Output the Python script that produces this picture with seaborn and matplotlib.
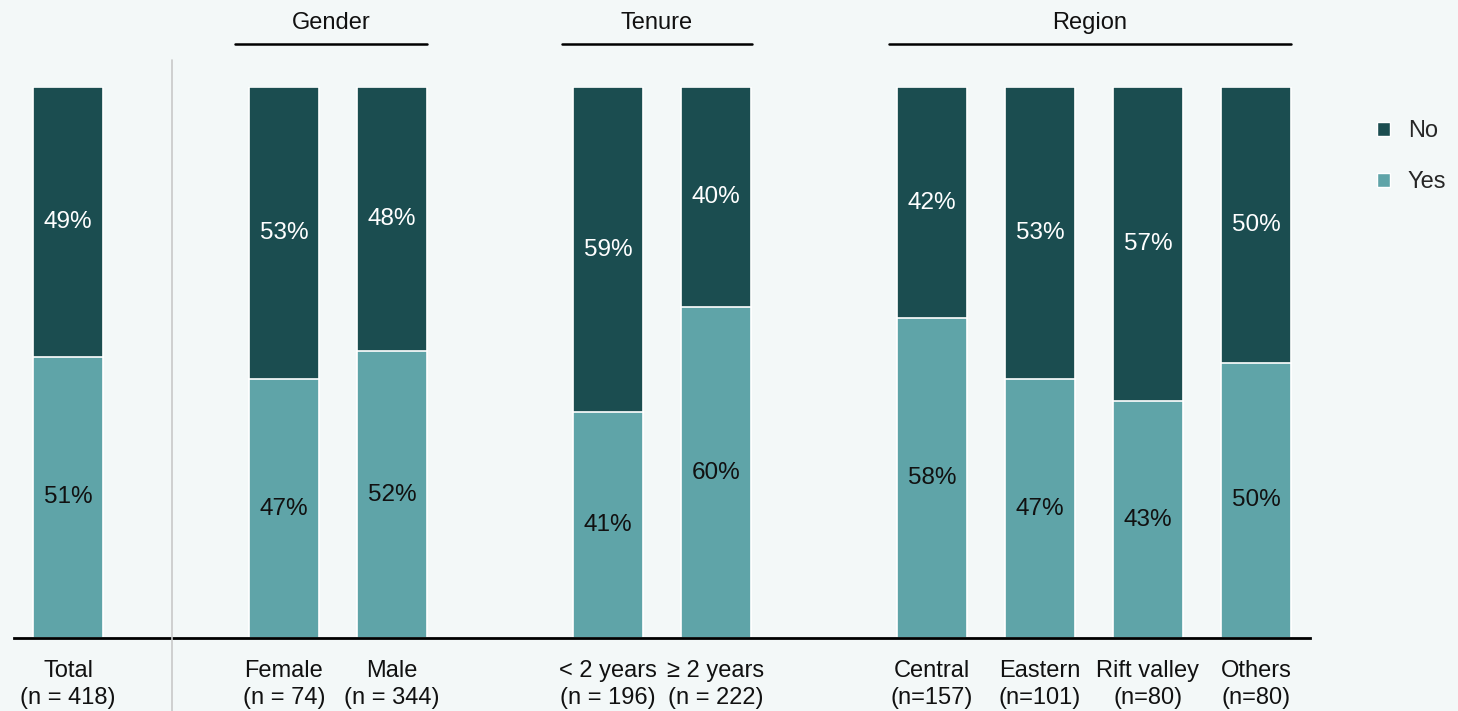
import pandas as pd
import matplotlib.pyplot as plt
from matplotlib.patches import Patch
import seaborn as sns

# slots along x, with empty slots used as gaps between the groups
positions = [0, 2, 3, 5, 6, 8, 9, 10, 11]
names = ["Total", "Female", "Male", "< 2 years", "\u2265 2 years",
         "Central", "Eastern", "Rift valley", "Others"]
counts = ["(n = 418)", "(n = 74)", "(n = 344)", "(n = 196)", "(n = 222)",
          "(n=157)", "(n=101)", "(n=80)", "(n=80)"]
yes = [51, 47, 52, 41, 60, 58, 47, 43, 50]
no = [49, 53, 48, 59, 40, 42, 53, 57, 50]

groups = ["Gender", "Tenure", "Region"]
group_spans = [(1.546, 3.324), (4.574, 6.333), (7.60, 11.32)]

dark = "#1b4d50"
light = "#5fa4a8"
bg = "#f3f8f8"

sns.set_theme(style="white")
plt.rcParams['font.family'] = ['Liberation Sans', 'DejaVu Sans']

df = pd.DataFrame({"pos": positions, "yes": yes, "no": no})
df["total"] = df["yes"] + df["no"]

fig = plt.figure(figsize=(14.58, 7.11), dpi=100, facecolor=bg)
ax = fig.add_axes([14 / 1458, 1 - 638 / 711, 1296 / 1458, 551 / 711])
ax.set_facecolor(bg)

sns.barplot(data=df, x="pos", y="total", native_scale=True, width=0.65,
            color=dark, saturation=1, edgecolor="white", linewidth=1.2,
            errorbar=None, ax=ax)
sns.barplot(data=df, x="pos", y="yes", native_scale=True, width=0.65,
            color=light, saturation=1, edgecolor="white", linewidth=1.2,
            errorbar=None, ax=ax)

for p, y, n in zip(positions, yes, no):
    ax.text(p, y / 2, f"{y}%", ha="center", va="center", fontsize=17.5, color="#111111")
    ax.text(p, y + n / 2, f"{n}%", ha="center", va="center", fontsize=17.5, color="white")

ax.set_xlim(-0.5, 11.5)
ax.set_ylim(0, 100)
ax.set_xticks(positions)
ax.set_xticklabels([f"{a}\n{b}" for a, b in zip(names, counts)], fontsize=17,
                   color="#111111", linespacing=1.3)
ax.tick_params(axis="x", length=0, pad=16)
ax.set_yticks([])
ax.set_xlabel("")
ax.set_ylabel("")
for s in ["top", "right", "left"]:
    ax.spines[s].set_visible(False)
ax.spines["bottom"].set_color("black")
ax.spines["bottom"].set_linewidth(2)

# separator between Total and the groups
ax.plot([0.963, 0.963], [104.9, -13.5], color="#c8c8c8", lw=1.2,
        clip_on=False, zorder=5)

for g, (a, b) in zip(groups, group_spans):
    ax.plot([a, b], [107.8, 107.8], color="black", lw=1.8, clip_on=False)
    ax.text((a + b) / 2, 111.7, g, ha="center", va="center", fontsize=17,
            color="#111111", clip_on=False)

handles = [Patch(facecolor=dark, edgecolor="white"), Patch(facecolor=light, edgecolor="white")]
fig.legend(handles, ["No", "Yes"], loc="upper left", bbox_to_anchor=(1356 / 1458, 1 - 99 / 711),
           frameon=False, fontsize=17, handlelength=0.55, handleheight=0.55,
           handletextpad=0.75, labelspacing=1.22)

fig.savefig("out.png", dpi=100, facecolor=bg)
